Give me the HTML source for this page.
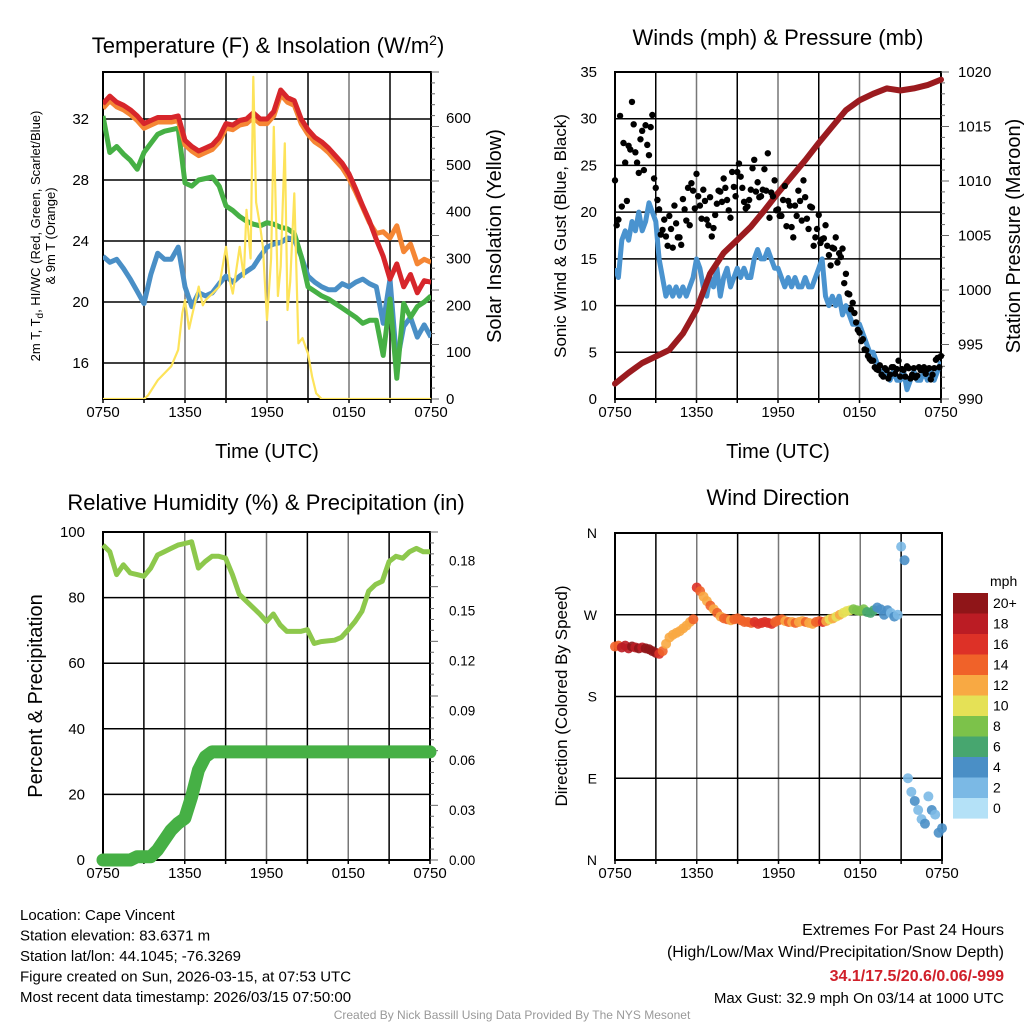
<!DOCTYPE html>
<html><head><meta charset="utf-8"><style>
body{margin:0;background:#fff;}
svg{display:block;font-family:"Liberation Sans",sans-serif;}
</style></head><body>
<svg id="c" width="1024" height="1024" viewBox="0 0 1024 1024"></svg>
<script>
// ---------- DATA ----------
const xTickLabels = ["0750","1350","1950","0150","0750"];
const tempT = [32,28,24,20,16];
const solarTicks = [0,100,200,300,400,500,600];
const windTicks = [0,5,10,15,20,25,30,35];
const presTicks = [990,995,1000,1005,1010,1015,1020];
const rhTicks = [0,20,40,60,80,100];
const pcpTicks = ["0.00","0.03","0.06","0.09","0.12","0.15","0.18"];
const dirTicks = ["N","E","S","W","N"];
const cbLabels = ["20+","18","16","14","12","10","8","6","4","2","0"];
const cbColors = ["#8f1518","#bb1c24","#dd3127","#f06229","#f8a943","#e5e156","#7cc24a","#47a66f","#4a8fc6","#7bb9e5","#b4e1f7"];

const redT = [33.0,33.5,33.1,32.9,32.6,32.2,31.7,31.9,32.1,32.1,32.1,32.2,30.6,30.2,29.9,30.1,30.3,30.8,31.7,31.6,31.9,32.0,32.4,32.0,32.0,32.5,33.9,33.4,33.2,32.0,31.3,30.8,30.5,30.1,29.6,29.1,28.4,27.4,26.3,25.3,24.1,23.0,21.5,22.5,21.0,21.8,20.6,21.4,21.3];
const orangeT = [32.7,33.2,32.8,32.6,32.3,31.9,31.4,31.6,31.8,31.8,31.8,31.9,30.3,29.9,29.6,29.8,30.0,30.5,31.4,31.3,31.6,31.7,32.1,31.7,31.7,32.2,33.6,33.1,32.9,31.7,31.0,30.5,30.2,29.8,29.3,28.8,28.1,27.2,26.2,25.2,24.5,24.6,24.2,25.0,23.3,23.8,22.5,22.8,22.6];
const greenT = [32.2,29.8,30.2,29.7,29.3,28.7,29.8,30.4,31.0,31.2,31.3,31.4,27.8,27.6,28.0,28.1,28.2,27.6,26.3,26.0,25.6,25.3,25.1,25.0,25.2,25.1,24.9,24.8,24.5,23.0,21.0,20.7,20.4,20.2,19.9,19.6,19.3,19.0,18.6,18.8,18.8,16.5,20.2,15.0,19.9,19.0,19.7,20.0,20.4];
const blueT = [23.0,22.6,22.8,22.2,21.5,20.7,19.9,21.8,23.2,22.8,22.8,23.6,21.0,19.7,20.6,20.4,20.6,21.2,21.7,21.3,21.7,22.0,22.3,23.0,23.6,23.8,23.9,24.2,24.1,23.0,21.7,21.3,21.0,20.8,20.8,21.2,21.0,21.3,21.5,21.2,21.0,18.6,21.5,16.0,18.4,19.0,17.7,18.5,17.7];
const solarHours = [0,3,3.3,4,4.5,5,5.5,5.8,6,6.3,6.5,7,7.3,7.5,8,8.5,9,9.3,9.5,10,10.3,10.5,10.8,11,11.2,11.5,11.7,12,12.3,12.5,12.8,13,13.3,13.5,13.7,14,14.3,14.6,15,15.3,15.6,16,24];
const solarW = [0,0,8,40,55,70,105,183,211,150,176,240,200,211,225,240,325,250,225,325,260,404,300,688,420,368,325,169,300,581,220,283,546,190,250,439,119,130,97,48,12,0,0];

const windSpd = [14,13,17,18, 17,19,18,20, 18,19,21,20, 19,15,13,11, 12,11,12,11, 12,11,12,13, 15,14,12,11, 13,12,14,11, 13,14,12,13, 14,13,14,13, 13,15,16,15, 15,16,15,14, 14,13,12,13, 12,13,12,12, 13,12,12,13, 14,15,11,10, 11,10,11,9, 10,9,8,8, 8,7,6,5, 5,4,3,3, 3,2,3,2, 2,3,1,2, 3,2,2,3, 2,3,2,3, 4];
const gustA = [23.4,19.2,20.6,25.3, 27.1,31.8,26.4,24.2, 28.7,29.3,26.1,30.4, 22.6,20.3,18.1,17.4, 19.6,16.2,18.8,17.3, 21.4,19.1,18.6,22.3, 24.1,20.7,22.4,19.2, 21.6,18.3,20.9,22.2, 23.6,21.3,19.4,22.7, 24.3,23.8,21.1,20.6, 22.4,25.6,23.2,21.7, 24.6,26.3,22.1,23.4, 20.3,19.6,22.8,21.2, 18.4,20.7,22.3,19.1, 21.6,18.2,20.5,17.3, 19.7,17.1,18.6,15.4, 16.2,17.3,15.6,16.1, 13.4,11.2,10.3,8.2, 7.1,6.4,5.2,4.3, 4.1,3.2,3.6,2.4, 3.1,2.6,3.4,3.2, 2.4,3.1,3.5,2.2, 3.3,2.5,3.1,3.4, 3.2,2.1,3.3,4.4, 4.6];
const gustB = [18.6,30.3,27.4,21.2, 26.7,29.4,25.3,27.8, 24.5,27.2,29.1,23.6, 21.3,17.6,19.2,16.4, 18.2,20.7,17.3,16.5, 20.3,22.6,23.1,20.4, 21.7,19.3,21.2,18.6, 17.4,19.7,22.3,21.1, 22.6,20.2,24.3,21.7, 25.2,22.6,20.4,21.3, 24.7,22.2,21.6,22.4, 22.3,19.4,21.7,20.2, 19.6,21.3,18.5,20.7, 17.3,19.6,21.2,23.4, 19.3,20.6,16.4,18.2, 16.7,17.2,16.4,14.3, 16.1,14.6,15.2,12.4, 11.3,9.6,9.2,7.4, 6.2,5.3,4.6,4.1, 3.4,3.1,2.6,3.3, 2.2,3.4,2.7,4.1, 3.2,2.4,3.3,2.6, 2.3,3.4,3.1,2.7, 3.3,2.6,4.2,3.4];
const pressure = [991.4,992.4,993.3,993.9,994.5,996.0,998.2,1001.5,1003.4,1004.6,1005.8,1007.3,1008.9,1010.4,1011.9,1013.5,1015.0,1016.5,1017.4,1018.0,1018.5,1018.3,1018.5,1018.8,1019.3];
const windDir = [235,236,234,236, 233,235,234,233, 234,233,232,230, 228,227,230,238, 245,248,250,252, 255,258,262,265, 300,296,290,285, 280,276,272,268, 266,265,264,265, 266,264,262,262, 261,262,260,261, 262,261,260,262, 264,265,263,262, 262,261,262,263, 262,261,260,262, 263,262,263,265, 266,268,270,272, 274,275,276,275, 274,276,273,272, 275,278,276,270, 275,272,268,270, 345,330,90,75, 65,55,45,40, 70,55,50,30, 35];
const rh = [96,94,87,90,87.5,87,86.5,89,93,94,95,96,96.5,97,89,91,92.6,92.6,92,87,81,79,77,75,72.7,75,71.7,69.7,69.7,69.7,70.2,66,66.6,66.8,67,67.9,70.2,72.7,75.8,82,84,85,91,92.6,92,94,95,94,94];
const precip = [0,0,0,0,0,0.002,0.002,0.002,0.006,0.012,0.018,0.022,0.025,0.038,0.054,0.062,0.065,0.065,0.065,0.065,0.065,0.065,0.065,0.065,0.065,0.065,0.065,0.065,0.065,0.065,0.065,0.065,0.065,0.065,0.065,0.065,0.065,0.065,0.065,0.065,0.065,0.065,0.065,0.065,0.065,0.065,0.065,0.065,0.065];

// ---------- HELPERS ----------
const svg = document.getElementById('c');
const NS = 'http://www.w3.org/2000/svg';
function mk(tag, at, parent){const e=document.createElementNS(NS,tag);for(const k in at)e.setAttribute(k,at[k]);(parent||svg).appendChild(e);return e;}
function txt(s,x,y,size,anchor,extra){const e=mk('text',Object.assign({x:x,y:y,'font-size':size,'text-anchor':anchor||'middle',fill:'#000'},extra||{}));e.textContent=s;return e;}
function lin(d0,d1,r0,r1){return v=>r0+(v-d0)/(d1-d0)*(r1-r0);}
function pathOf(xs,ys){return xs.map((x,i)=>(i?'L':'M')+x.toFixed(1)+','+ys[i].toFixed(1)).join('');}

function frame(x0,x1,y0,y1,hVals,yf,name){
  const g=mk('g',{});
  
  
  for(let i=1;i<8;i++){const x=x0+(x1-x0)*i/8;mk('line',{x1:x,x2:x,y1:y0,y2:y1,stroke:i%2?'#000':'#777','stroke-width':1.5},g);}
  hVals.forEach(v=>{const y=yf(v);mk('line',{x1:x0,x2:x1,y1:y,y2:y,stroke:'#000','stroke-width':1.5},g);});
  const b=mk('rect',{x:x0,y:y0,width:x1-x0,height:y1-y0,fill:'none',stroke:'#000','stroke-width':2});
  
  
  xTickLabels.forEach((s,i)=>{const t=txt(s,x0+(x1-x0)*i/4,y1+18,15);
    
    });
  for(let i=0;i<=8;i++){const x=x0+(x1-x0)*i/8;mk('line',{x1:x,x2:x,y1:y1,y2:y1+4,stroke:'#000','stroke-width':1.5});}
}
function rTicks(x1,y0,y1){for(let i=0;i<=30;i++){const y=y0+(y1-y0)*i/30;mk('line',{x1:x1,x2:x1+(i%5?4:8),y1:y,y2:y,stroke:'#666','stroke-width':1});}}

// ---------- PANEL 1: Temperature ----------
{
 const X0=103,X1=431,Y0=72,Y1=399;
 const xs=lin(0,24,X0,X1), yT=lin(32,16,119,363), yS=lin(0,600,399,118);
 frame(X0,X1,Y0,Y1,tempT,yT,'temp-panel');
 rTicks(X1,Y0,Y1);
 const clip=mk('clipPath',{id:'cp1'});mk('rect',{x:X0,y:Y0,width:X1-X0,height:Y1-Y0},clip);
 const hrs=redT.map((_,i)=>i*0.5);
 const series=[[blueT,'#4a8fc6','blue-windchill-line'],[greenT,'#46b045','green-dewpoint-line'],[orangeT,'#f58634','orange-9m-temp-line'],[redT,'#d7262b','red-2m-temp-line']];
 series.forEach(s=>{const p=mk('path',{d:pathOf(hrs.map(xs),s[0].map(yT)),fill:'none',stroke:s[1],'stroke-width':5,'stroke-linejoin':'round','clip-path':'url(#cp1)'});
   
   });
 const sp=mk('path',{d:pathOf(solarHours.map(xs),solarW.map(yS)),fill:'none',stroke:'#fde35a','stroke-width':2.2,'stroke-linejoin':'round','clip-path':'url(#cp1)'});
 
 
 tempT.forEach(v=>{const t=txt(String(v),89,yT(v)+5,15,'end');});
 solarTicks.forEach(v=>{const t=txt(String(v),446,yS(v)+5,15,'start');});
 const ti=mk('text',{x:268,y:53,'font-size':22,'text-anchor':'middle'});ti.innerHTML='Temperature (F) &amp; Insolation (W/m<tspan dy="-8" font-size="14">2</tspan><tspan dy="8">)</tspan>';
 
 const yl=mk('text',{transform:'translate(40,236) rotate(-90)','font-size':13,'text-anchor':'middle'});yl.innerHTML='2m T, T<tspan dy="3" font-size="10">d</tspan><tspan dy="-3">, HI/WC (Red, Green, Scarlet/Blue)</tspan>';
 
 const yl2=txt('& 9m T (Orange)',0,0,13,'middle',{transform:'translate(55,236) rotate(-90)'});
 const yr=txt('Solar Insolation (Yellow)',0,0,20,'middle',{transform:'translate(501,236) rotate(-90)'});
 const xl=txt('Time (UTC)',267,458,20);
}

// ---------- PANEL 2: Winds ----------
{
 const X0=615,X1=941,Y0=72,Y1=399;
 const xs=lin(0,24,X0,X1), yW=lin(0,35,399,72), yP=lin(990,1020,399,72);
 frame(X0,X1,Y0,Y1,[5,10,15,20,25,30],yW,'wind-panel');
 rTicks(X1,Y0,Y1);
 const clip=mk('clipPath',{id:'cp2'});mk('rect',{x:X0,y:Y0,width:X1-X0,height:Y1-Y0},clip);
 const wp=mk('path',{d:pathOf(windSpd.map((_,i)=>xs(i*0.25)),windSpd.map(yW)),fill:'none',stroke:'#4a93cf','stroke-width':5,'stroke-linejoin':'round','clip-path':'url(#cp2)'});
 
 const pp=mk('path',{d:pathOf(pressure.map((_,i)=>xs(i)),pressure.map(yP)),fill:'none',stroke:'#9b1b1f','stroke-width':6,'stroke-linecap':'round','stroke-linejoin':'round'});
 
 const g=mk('g',{fill:'#000'});
 gustA.forEach((v,i)=>{const c=mk('circle',{cx:xs(i*0.25),cy:yW(v),r:3.2},g);});
 gustB.forEach((v,i)=>{const c=mk('circle',{cx:xs(i*0.25+0.125),cy:yW(v),r:3.2},g);});
 windTicks.forEach(v=>{const t=txt(String(v),597,yW(v)+5,15,'end');});
 presTicks.forEach(v=>{const t=txt(String(v),958,yP(v)+5,15,'start');});
 const ti=txt('Winds (mph) & Pressure (mb)',778,45,22);
 const yl=txt('Sonic Wind & Gust (Blue, Black)',0,0,17,'middle',{transform:'translate(566,236) rotate(-90)'});
 const yr=txt('Station Pressure (Maroon)',0,0,20,'middle',{transform:'translate(1020,236) rotate(-90)'});
 const xl=txt('Time (UTC)',778,458,20);
}

// ---------- PANEL 3: RH & Precip ----------
{
 const X0=103,X1=430,Y0=532,Y1=860;
 const xs=lin(0,24,X0,X1), yR=lin(0,100,860,532), yC=lin(0,0.03,860,810.1);
 frame(X0,X1,Y0,Y1,[20,40,60,80],yR,'rh-panel');
 rTicks(X1,Y0,Y1);
 const hrs=rh.map((_,i)=>i*0.5);
 const cp=mk('path',{d:pathOf(hrs.map(xs),precip.map(yC)),fill:'none',stroke:'#46b045','stroke-width':13,'stroke-linecap':'round','stroke-linejoin':'round'});
 
 const rp=mk('path',{d:pathOf(hrs.map(xs),rh.map(yR)),fill:'none',stroke:'#8dc84c','stroke-width':5,'stroke-linejoin':'round'});
 
 rhTicks.forEach(v=>{const t=txt(String(v),85,yR(v)+5,15,'end');});
 pcpTicks.forEach((s,i)=>{const t=txt(s,449,yC(i*0.03)+5,13.5,'start');});
 const ti=txt('Relative Humidity (%) & Precipitation (in)',266,510,22);
 const yl=txt('Percent & Precipitation',0,0,20,'middle',{transform:'translate(42,696) rotate(-90)'});
}

// ---------- PANEL 4: Wind Direction ----------
{
 const X0=615,X1=942,Y0=533,Y1=860;
 const xs=lin(0,24,X0,X1), yD=lin(0,360,860,533);
 frame(X0,X1,Y0,Y1,[90,180,270],yD,'dir-panel');
 function col(s){let k=Math.min(10,Math.max(0,Math.round(s/2)));return cbColors[10-k];}
 const g=mk('g',{});
 windDir.forEach((d,i)=>{const c=mk('circle',{cx:xs(i*0.25),cy:yD(d),r:5,fill:col(windSpd[i]),'fill-opacity':0.9},g);
   });
 dirTicks.forEach((s,i)=>{const t=txt(s,597,yD(i*90)+5,14,'end');});
 const ti=txt('Wind Direction',778,505,22);
 const yl=txt('Direction (Colored By Speed)',0,0,17,'middle',{transform:'translate(567,696) rotate(-90)'});
 const cb=mk('g',{});
 cbColors.forEach((c,i)=>{const r=mk('rect',{x:953,y:593+i*20.5,width:35,height:20.6,fill:c},cb);});
 cbLabels.forEach((s,i)=>{const t=txt(s,993,608+i*20.5,14,'start');});
 const u=txt('mph',990,586,14,'start');
}

// ---------- FOOTER ----------
const leftLines=["Location: Cape Vincent","Station elevation: 83.6371 m","Station lat/lon: 44.1045; -76.3269","Figure created on Sun, 2026-03-15, at 07:53 UTC","Most recent data timestamp: 2026/03/15 07:50:00"];
leftLines.forEach((s,i)=>{const t=txt(s,20,920+i*20.5,15,'start');});
const r1=txt('Extremes For Past 24 Hours',1004,935,16,'end');
const r2=txt('(High/Low/Max Wind/Precipitation/Snow Depth)',1004,957,16,'end');
const r3=txt('34.1/17.5/20.6/0.06/-999',1004,981,16,'end',{fill:'#d0202a','font-weight':'bold'});
const r4=txt('Max Gust: 32.9 mph On 03/14 at 1000 UTC',1004,1003,15,'end');
const cr=txt('Created By Nick Bassill Using Data Provided By The NYS Mesonet',512,1019,12,'middle',{fill:'#999'});
</script>
</body></html>
